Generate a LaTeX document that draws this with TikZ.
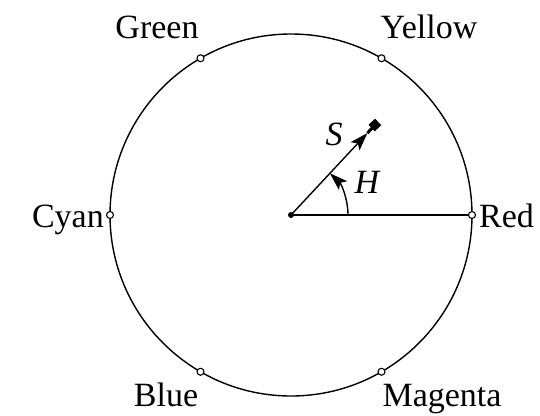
\documentclass[tikz,border=0pt]{standalone}
\usepackage{fontspec}
\setmainfont{Liberation Serif}
\usetikzlibrary{arrows.meta,calc}
\begin{document}
\begin{tikzpicture}[x=1pt,y=-1pt,
  lbl/.style={font=\fontsize{34}{34}\selectfont, anchor=base, inner sep=0pt},
  port/.style={circle, draw, fill=white, inner sep=0pt, minimum size=7pt, line width=1.1pt},
  rim/.style={line width=1.4pt},
  tip/.style={-{Stealth[length=18pt,width=12pt,inset=4pt]}}]
\useasboundingbox (0,0) rectangle (540,415);
\coordinate (O) at (291,215);
\draw[rim] (O) circle (181);
\node[circle, fill, inner sep=0pt, minimum size=6pt] (c) at (O) {};
% S vector
\coordinate (Sa) at ($(O)+(-47:112)$);
\coordinate (Sb) at ($(O)+(-47:123)$);
\draw[line width=1.4pt, tip] (c.center) -- (Sa);
\node[fill, inner sep=0pt, minimum size=9pt, rotate=43] (sq) at (Sb) {};
\draw[line width=3pt] (Sa) -- (sq.center);
\node[font=\fontsize{34}{34}\selectfont\itshape] (S) at (334,134) {S};
% H angle
\coordinate (Ha) at ($(O)+(57,0)$);
\draw[line width=1.4pt, tip] (Ha) arc[start angle=0, end angle=-47, radius=57];
\node[font=\fontsize{34}{34}\selectfont\itshape] (H) at (367,182) {H};
% ports
\node[port] (red) at ($(O)+(0:181)$) {};
\node[port] (cyan) at ($(O)+(180:181)$) {};
\node[port] (yellow) at ($(O)+(-60:181)$) {};
\node[port] (green) at ($(O)+(-120:181)$) {};
\node[port] (blue) at ($(O)+(120:181)$) {};
\node[port] (magenta) at ($(O)+(60:181)$) {};
\draw[line width=2.2pt] (c.center) -- (red);
% labels
\node[lbl] (tg) at (157,38) {Green};
\node[lbl] (ty) at (429,38) {Yellow};
\node[lbl, anchor=base east] (tc) at (104,227) {Cyan};
\node[lbl, anchor=base west] (tr) at (479,227) {Red};
\node[lbl] (tb) at (166,406) {Blue};
\node[lbl] (tm) at (442,406) {Magenta};
\end{tikzpicture}
\end{document}
